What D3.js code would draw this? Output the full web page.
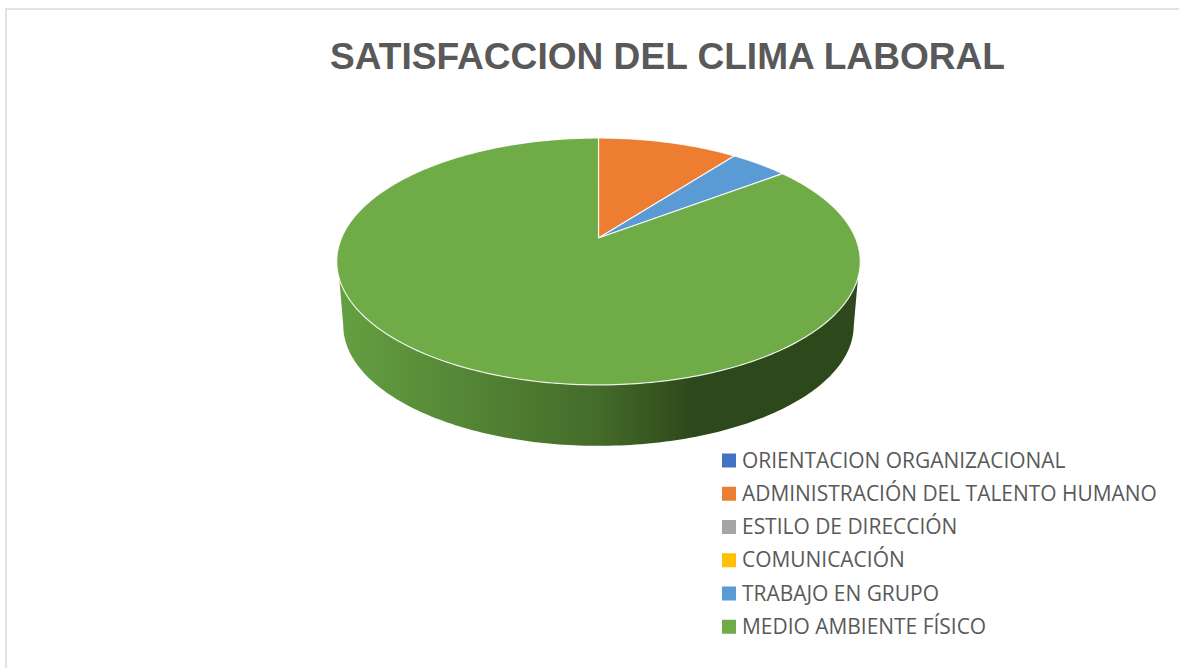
<!DOCTYPE html>
<html lang="es">
<head>
<meta charset="utf-8">
<title>Satisfaccion del clima laboral</title>
<script src="https://cdn.jsdelivr.net/npm/d3@7"></script>
<style>
    html, body { margin: 0; padding: 0; background: #fff; }
    svg { display: block; }
    .title { font-family: "Liberation Sans", sans-serif; font-weight: bold; font-size: 37.1px; fill: #595959; text-anchor: middle; }
    .legend-label { font-family: "Open Sans", sans-serif; font-size: 20.95px; fill: #595959; }
</style>
</head>
<body>
<svg id="chart" width="1179" height="668"></svg>
<script>
// Datos (porcentajes estimados)
const categories = [
    'ORIENTACION ORGANIZACIONAL',
    'ADMINISTRACIÓN DEL TALENTO HUMANO',
    'ESTILO DE DIRECCIÓN',
    'COMUNICACIÓN',
    'TRABAJO EN GRUPO',
    'MEDIO AMBIENTE FÍSICO'
];
const values = [0, 10.4, 0, 0, 4.3, 85.3];
const colors = ['#4472C4', '#ED7D31', '#A5A5A5', '#FFC000', '#5B9BD5', '#6FAB47'];

const W = 1179, H = 668;
const svg = d3.select('#chart');

// Perspectiva del disco: el centro del pastel no cae en el centro de la elipse
const cx = 598.5, cy = 238;
const radiusX = 257, radiusY = 119, tilt = 0.19;
const baseScale = 0.975, baseDrop = 64.6;

function project(angle, scale = 1, drop = 0) {
    const u = Math.sin(angle);
    const v = -Math.cos(angle);
    const w = 1 - tilt * v;
    return [cx + scale * radiusX * u / w, cy + drop + scale * radiusY * v / w];
}

const color = d3.scaleOrdinal().domain(categories).range(colors);
const pie = d3.pie().sort(null).value(d => d.value);
const slices = pie(categories.map((name, i) => ({ name, value: values[i] })))
    .filter(d => d.value > 0);
const line = d3.line();

function rimAngles(a0, a1) {
    const n = Math.max(2, Math.ceil((a1 - a0) * 60));
    return d3.range(n + 1).map(i => a0 + (a1 - a0) * i / n);
}

// Marco gris de la imagen
svg.append('path')
    .attr('d', `M6,${H}V9H${W}`)
    .attr('fill', 'none')
    .attr('stroke', '#e2e2e2')
    .attr('stroke-width', 2);

svg.append('text')
    .attr('class', 'title')
    .attr('x', 667.5)
    .attr('y', 69)
    .text('SATISFACCION DEL CLIMA LABORAL');

// Degradado de la pared lateral
const grad = svg.append('defs').append('linearGradient')
    .attr('id', 'side')
    .attr('gradientUnits', 'userSpaceOnUse')
    .attr('x1', 337).attr('x2', 860).attr('y1', 0).attr('y2', 0);
[[0, '#64a041'], [0.5, '#446b2a'], [0.68, '#2d481a'], [1, '#2d481a']].forEach(s => {
    grad.append('stop').attr('offset', s[0]).attr('stop-color', s[1]);
});

// Pared: solo la parte delantera del borde es visible
const topLimit = cy + 39, baseLimit = cy + baseDrop + 23;
slices.forEach(d => {
    const angles = rimAngles(d.startAngle, d.endAngle);
    const topRim = angles.filter(a => project(a)[1] >= topLimit).map(a => project(a));
    const baseRim = angles.filter(a => project(a, baseScale, baseDrop)[1] >= baseLimit)
        .map(a => project(a, baseScale, baseDrop));
    if (topRim.length < 2) return;
    svg.append('path')
        .attr('class', 'side')
        .attr('d', line(topRim.concat(baseRim.reverse())) + 'Z')
        .attr('fill', 'url(#side)');
});

// Cara superior
slices.forEach(d => {
    const pts = [[cx, cy]].concat(rimAngles(d.startAngle, d.endAngle).map(a => project(a)));
    svg.append('path')
        .attr('class', 'slice')
        .attr('d', line(pts) + 'Z')
        .attr('fill', color(d.data.name))
        .attr('stroke', '#fff')
        .attr('stroke-opacity', 0.85)
        .attr('stroke-width', 1.2)
        .attr('stroke-linejoin', 'round');
});

// Leyenda
const legendY = d3.scaleBand().domain(categories).range([443.5, 643]).paddingInner(0).paddingOuter(0);
const legend = svg.append('g').selectAll('g')
    .data(categories)
    .enter()
    .append('g')
    .attr('transform', d => `translate(722,${legendY(d)})`);

legend.append('rect')
    .attr('y', 10)
    .attr('width', 14)
    .attr('height', 14)
    .attr('fill', d => color(d));

legend.append('text')
    .attr('class', 'legend-label')
    .attr('x', 20)
    .attr('y', 24)
    .text(d => d);
</script>
</body>
</html>
